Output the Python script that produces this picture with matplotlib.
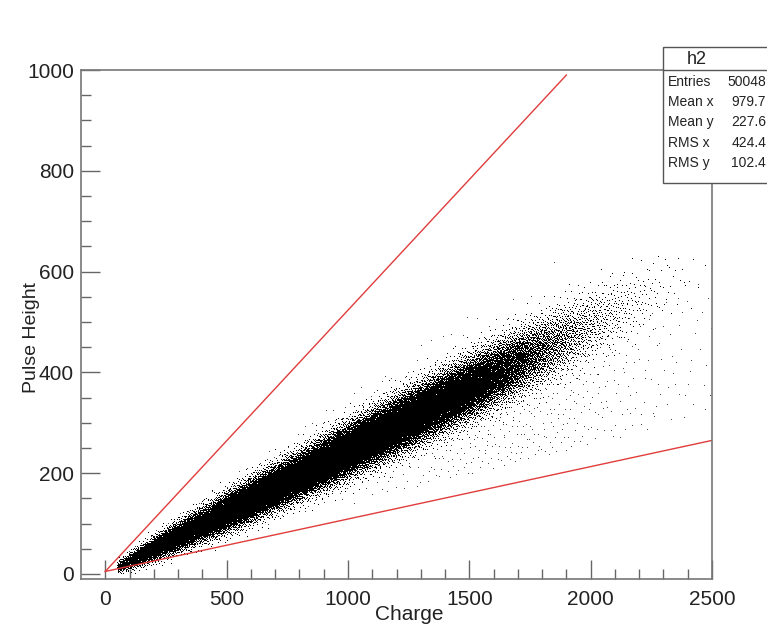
import numpy as np
import matplotlib.pyplot as plt
from matplotlib.patches import Rectangle
from statistics import NormalDist

plt.rcParams['font.family'] = ['Liberation Sans', 'DejaVu Sans']

# charge bins, 100 wide (middle of each bin)
bin_mid = [50, 150, 250, 350, 450, 550, 650, 750, 850, 950, 1050, 1150, 1250,
           1350, 1450, 1550, 1650, 1750, 1850, 1950, 2050, 2150, 2250, 2350, 2450]
# entries in the dense band per bin
band_counts = [300, 1100, 1600, 2000, 2400, 2800, 3100, 3400, 3600, 3700, 3750, 3700, 3500,
               3200, 2800, 2300, 1700, 1100, 650, 350, 180, 90, 40, 15, 5]
# pulse height at the middle of the band
band_center = [12, 36, 60, 85, 109, 133, 158, 182, 207, 232, 257, 281, 306,
               331, 356, 381, 406, 431, 456, 481, 506, 530, 554, 578, 600]
# spread of the band
band_sigma = [6, 10, 13, 15, 17, 19, 20, 21, 22, 24, 25, 26, 27,
              28, 29, 30, 31, 32, 33, 34, 35, 35, 35, 35, 35]
# loose dots below the band, and the pulse height / charge ratio they cover
halo_counts = [4, 2, 2, 3, 3, 4, 5, 6, 8, 10, 12, 16, 22,
               30, 38, 46, 52, 55, 52, 46, 38, 30, 24, 18, 14]
halo_ratio = (0.12, 0.23)
# a few loose dots above the band
above_counts = [2, 2, 3, 3, 4, 4, 5, 5, 5, 5, 5, 4, 4,
                3, 3, 2, 2, 1, 1, 0, 0, 0, 0, 0, 0]
above_ratio = (0.29, 0.34)

stats_names = ['Entries', 'Mean x', 'Mean y', 'RMS x', 'RMS y']
stats_values = ['50048', '979.7', '227.6', '424.4', '102.4']

# the two red cut lines (charge, pulse height) end points
upper_cut = ([0, 1900], [5, 990])
lower_cut = ([0, 2500], [5, 265])


def halton(n, base, start=1):
    idx = np.arange(start, start + n)
    out = np.zeros(n)
    f = 1.0
    while np.any(idx > 0):
        f /= base
        out += f * (idx % base)
        idx //= base
    return out


def spread_x(counts, u):
    # place charges so that their density follows the per-bin counts smoothly
    grid = np.linspace(0, 2500, 2501)
    dens = np.interp(grid, bin_mid, counts, left=0, right=counts[-1])
    cdf = np.cumsum(dens)
    cdf = cdf / cdf[-1]
    return np.interp(u, cdf, grid)


inv = np.vectorize(NormalDist().inv_cdf)

n_band = sum(band_counts)
bx = spread_x(band_counts, halton(n_band, 2))
g = inv(np.clip(halton(n_band, 3), 1e-4, 1 - 1e-4))
by = np.interp(bx, bin_mid, band_center) + np.interp(bx, bin_mid, band_sigma) * g


def loose(counts, ratio, start):
    n = sum(counts)
    x = spread_x(counts, halton(n, 2, start))
    r = ratio[0] + (ratio[1] - ratio[0]) * halton(n, 3, start)
    return x, x * r + 15


hx, hy = loose(halo_counts, halo_ratio, 60011)
ax_, ay_ = loose(above_counts, above_ratio, 90007)

fig = plt.figure(figsize=(7.67, 6.26), dpi=100)
W, H = 767, 626
ax = fig.add_axes([81 / W, 1 - 579 / H, (712 - 81) / W, (579 - 70) / H])

ax.plot(hx, hy, ',', color='#444444')
ax.plot(ax_, ay_, ',', color='#444444')
ax.plot(bx, by, ',', color='black')
ax.plot(*upper_cut, color='#e03c3c', lw=1.0)
ax.plot(*lower_cut, color='#e03c3c', lw=1.0)

ax.set_xlim(-100, 2500)
ax.set_ylim(-10, 1000)
ax.set_xticks(range(0, 2501, 500))
ax.set_xticks(range(0, 2501, 100), minor=True)
ax.set_yticks(range(0, 1001, 200))
ax.set_yticks(range(0, 1001, 50), minor=True)
ax.tick_params(which='major', direction='in', length=14, width=1, color='#666666',
               labelsize=15, labelcolor='#222222', pad=8)
ax.tick_params(which='minor', direction='in', length=7, width=1, color='#666666')
ax.tick_params(axis='y', pad=5)
for sp in ax.spines.values():
    sp.set_color('#777777')
    sp.set_linewidth(1.2)

fig.text(409 / W, 1 - 615 / H, 'Charge', ha='center', va='center', fontsize=15, color='#222222')
fig.text(32 / W, 1 - 337 / H, 'Pulse Height', ha='center', va='center', rotation=90,
         fontsize=14, color='#222222')

# stats box, cut by the right edge of the picture
box = Rectangle((663 / W, 1 - 183 / H), 120 / W, (183 - 47) / H, transform=fig.transFigure,
                facecolor='white', edgecolor='#555555', lw=1.0, zorder=5)
fig.add_artist(box)
fig.add_artist(plt.Line2D([663 / W, 1], [1 - 70 / H, 1 - 70 / H], transform=fig.transFigure,
                          color='#555555', lw=1.0, zorder=6))
fig.text(697 / W, 1 - 59 / H, 'h2', ha='center', va='center', fontsize=13, color='#222222', zorder=7)
rows_y = [82, 102, 122, 143, 163]
for name, val, yy in zip(stats_names, stats_values, rows_y):
    fig.text(668 / W, 1 - yy / H, name, ha='left', va='center', fontsize=10, color='#222222', zorder=7)
    fig.text(766 / W, 1 - yy / H, val, ha='right', va='center', fontsize=10, color='#222222', zorder=7)

fig.savefig('out.png', dpi=100)
